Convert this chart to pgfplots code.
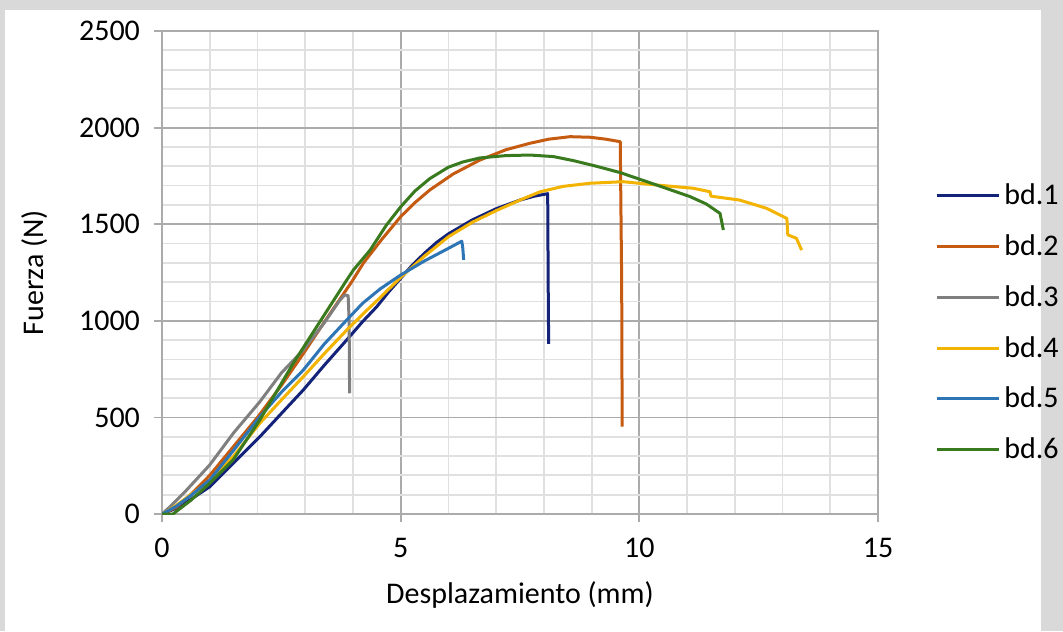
\documentclass[border=0pt]{standalone}
\usepackage{pgfplots}
\pgfplotsset{compat=1.18}
\usepackage{fontspec}
\setmainfont{Carlito}

\definecolor{c1}{HTML}{14237A}
\definecolor{c2}{HTML}{C55A11}
\definecolor{c3}{HTML}{7F7F7F}
\definecolor{c4}{HTML}{F2B400}
\definecolor{c5}{HTML}{2E75B6}
\definecolor{c6}{HTML}{3A7A1E}
\definecolor{frame}{HTML}{D9D9D9}
\definecolor{majgrid}{HTML}{ABABAB}
\definecolor{mingrid}{HTML}{E0E0E0}

\begin{document}
\begin{tikzpicture}
% page frame (px*0.5pt, origin at the axis' lower left corner)
\fill[frame] (-81pt,-58.5pt) rectangle (450.5pt,257pt);
\fill[white] (-78.5pt,-58.5pt) rectangle (439.5pt,252pt);
\begin{axis}[
  at={(0pt,0pt)}, anchor=south west,
  scale only axis, width=358pt, height=241.5pt,
  xmin=0, xmax=15, ymin=0, ymax=2500,
  xtick={0,5,10,15}, ytick={0,500,...,2500},
  minor x tick num=4, minor y tick num=4,
  grid=both,
  major grid style={draw=majgrid, line width=0.9pt},
  minor grid style={draw=mingrid, line width=0.9pt},
  axis line style={draw=majgrid, line width=0.9pt},
  tick align=outside, tick pos=left,
  major tick length=4pt, minor tick length=0pt,
  tick style={draw=majgrid, line width=0.9pt},
  tick label style={font=\fontsize{15}{17}\selectfont},
  yticklabel style={xshift=-3.5pt},
  xticklabel style={yshift=-4.5pt},
  /pgf/number format/assume math mode=true,
  /pgf/number format/1000 sep={},
  label style={font=\fontsize{15}{17}\selectfont},
  xlabel={Desplazamiento (mm)},
  ylabel={Fuerza (N)},
  xlabel style={at={(axis description cs:0.5,-0.1677)}, anchor=center},
  ylabel style={at={(axis description cs:-0.1774,0.5)}, anchor=center},
  legend style={at={(axis description cs:1.0796,0.396)}, anchor=west,
    draw=none, fill=none, font=\fontsize{15}{17}\selectfont,
    row sep=9.5pt, column sep=0pt, inner sep=0pt,
    nodes={inner sep=2pt}},
  legend cell align=left,
  legend image code/.code={\draw[#1] (0pt,0pt) -- (31pt,0pt);},
  every axis plot/.append style={line width=1.5pt, line join=round},
]
\addplot[c1] coordinates {
(0,0) (0.3,30) (0.6,75) (1.0,141) (1.5,265) (2.05,400) (2.5,520) (2.96,642)
(3.4,770) (3.87,901) (4.2,995) (4.5,1073) (4.75,1150) (5.0,1220) (5.25,1290)
(5.5,1350) (5.75,1405) (6.0,1450) (6.5,1522) (7.0,1580) (7.5,1625) (7.8,1645)
(8.08,1658) (8.09,1200) (8.1,880)};
\addlegendentry{bd.1}
\addplot[c2] coordinates {
(0,0) (0.3,35) (0.6,100) (1.0,200) (1.5,350) (2.0,500) (2.5,665) (2.96,830)
(3.5,1030) (3.97,1200) (4.22,1299) (4.6,1420) (5.0,1539) (5.3,1612) (5.61,1677)
(6.1,1760) (6.66,1832) (7.2,1885) (7.71,1919) (8.1,1940) (8.55,1953)
(8.97,1950) (9.3,1940) (9.6,1927) (9.63,1200) (9.64,452)};
\addlegendentry{bd.2}
\addplot[c3] coordinates {
(0,0) (0.17,38) (0.5,120) (1.0,254) (1.5,420) (2.05,581) (2.5,730) (2.96,849)
(3.4,990) (3.73,1108) (3.83,1134) (3.9,1130) (3.92,1000) (3.93,625)};
\addlegendentry{bd.3}
\addplot[c4] coordinates {
(0,0) (0.3,45) (0.6,100) (1.0,170) (1.5,300) (2.05,470) (2.5,590) (2.96,711)
(3.4,830) (3.87,952) (4.25,1045) (4.57,1120) (5.0,1225) (5.5,1335) (6.0,1435)
(6.5,1510) (7.0,1570) (7.5,1625) (7.92,1668) (8.41,1696) (8.97,1712)
(9.66,1720) (10.36,1703) (11.13,1686) (11.48,1668) (11.5,1645) (12.1,1625)
(12.67,1582) (13.09,1530) (13.11,1445) (13.29,1427) (13.4,1366)};
\addlegendentry{bd.4}
\addplot[c5] coordinates {
(0,0) (0.3,40) (0.6,95) (1.0,176) (1.5,330) (2.05,504) (2.5,630) (2.96,745)
(3.4,880) (3.87,1004) (4.2,1090) (4.57,1165) (5.0,1237) (5.5,1310) (6.0,1375)
(6.28,1412) (6.3,1380) (6.32,1315)};
\addlegendentry{bd.5}
\addplot[c6] coordinates {
(0,0) (0.23,0) (0.6,70) (1.0,159) (1.49,280) (2.05,487) (2.75,780) (3.24,969)
(3.87,1211) (4.01,1263) (4.36,1366) (4.7,1495) (5.0,1590) (5.3,1672)
(5.61,1736) (6.0,1795) (6.3,1822) (6.66,1843) (7.2,1855) (7.71,1858)
(8.2,1850) (8.62,1829) (9.1,1800) (9.6,1767) (10.36,1703) (11.06,1643)
(11.4,1605) (11.69,1556) (11.72,1520) (11.76,1470)};
\addlegendentry{bd.6}
\end{axis}
\end{tikzpicture}
\end{document}
